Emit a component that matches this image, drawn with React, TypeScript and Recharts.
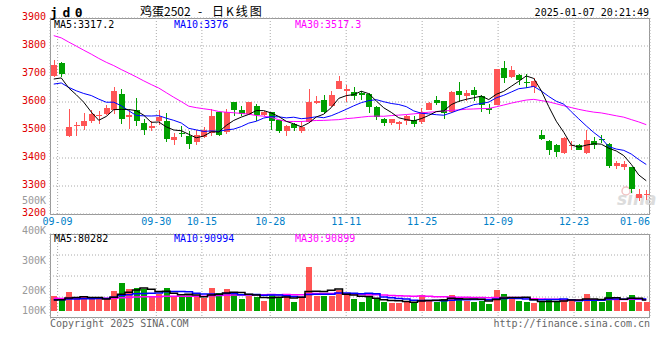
import React from 'react';
import { ComposedChart, Bar, Line, XAxis, YAxis, CartesianGrid, Cell } from 'recharts';

const MONO = '"DejaVu Sans Mono", "Liberation Mono", monospace';
const CJK = '"Noto Sans CJK SC", "Noto Sans", sans-serif';
const RED = '#ff5555';
const GREEN = '#00a000';
const GRID = '#aaaaaa';
const FRAME = '#999999';

const dates = [
  '09-06', '09-09', '09-10', '09-11', '09-12', '09-13', '09-18', '09-19', '09-20',
  '09-23', '09-24', '09-25', '09-26', '09-27', '09-30', '10-08', '10-09', '10-10', '10-11',
  '10-14', '10-15', '10-16', '10-17', '10-18', '10-21', '10-22', '10-23', '10-24', '10-25',
  '10-28', '10-29', '10-30', '10-31', '11-01', '11-04', '11-05', '11-06', '11-07', '11-08',
  '11-11', '11-12', '11-13', '11-14', '11-15', '11-18', '11-19', '11-20', '11-21', '11-22',
  '11-25', '11-26', '11-27', '11-28', '11-29', '12-02', '12-03', '12-04', '12-05', '12-06',
  '12-09', '12-10', '12-11', '12-12', '12-13', '12-16', '12-17', '12-18', '12-19', '12-20',
  '12-23', '12-24', '12-25', '12-26', '12-27', '12-30', '12-31', '01-02', '01-03', '01-06', '01-07',
];

const opens = [
  3692, 3739, 3477, 3516, 3515, 3533, 3549, 3556, 3573, 3630,
  3545, 3573, 3525, 3506, 3531, 3533, 3463, 3489, 3477, 3456,
  3475, 3489, 3564, 3492, 3599, 3573, 3558, 3585, 3552, 3563,
  3535, 3495, 3523, 3498, 3527, 3596, 3608, 3585, 3648, 3638,
  3635, 3632, 3630, 3582, 3540, 3525, 3521, 3533, 3537, 3527,
  3573, 3608, 3602, 3564, 3640, 3620, 3642, 3623, 3579, 3590,
  3721, 3688, 3698, 3670, 3652, 3483, 3462, 3448, 3418, 3444,
  3448, 3417, 3462, 3469, 3451, 3370, 3368, 3367, 3257, 3268,
];
const highs = [
  3751, 3742, 3575, 3527, 3561, 3572, 3569, 3590, 3652, 3646,
  3573, 3614, 3540, 3531, 3573, 3561, 3489, 3515, 3495, 3499,
  3511, 3575, 3566, 3576, 3600, 3587, 3601, 3593, 3569, 3565,
  3537, 3519, 3525, 3531, 3648, 3620, 3626, 3638, 3692, 3660,
  3652, 3640, 3632, 3585, 3543, 3540, 3531, 3555, 3549, 3579,
  3600, 3620, 3603, 3640, 3671, 3642, 3654, 3624, 3594, 3718,
  3748, 3727, 3700, 3700, 3686, 3501, 3463, 3449, 3475, 3460,
  3449, 3501, 3475, 3483, 3454, 3388, 3390, 3368, 3289, 3285,
];
const lows = [
  3688, 3690, 3476, 3477, 3501, 3525, 3523, 3554, 3558, 3523,
  3504, 3513, 3481, 3498, 3519, 3456, 3445, 3475, 3433, 3448,
  3471, 3477, 3480, 3487, 3549, 3549, 3555, 3533, 3549, 3501,
  3489, 3480, 3495, 3489, 3525, 3593, 3558, 3582, 3646, 3600,
  3606, 3608, 3561, 3537, 3513, 3519, 3499, 3519, 3511, 3523,
  3570, 3590, 3539, 3561, 3600, 3602, 3602, 3563, 3558, 3588,
  3668, 3686, 3662, 3650, 3632, 3463, 3412, 3402, 3415, 3427,
  3427, 3415, 3433, 3454, 3364, 3362, 3358, 3275, 3246, 3249,
];
const closes = [
  3733, 3700, 3511, 3519, 3533, 3558, 3552, 3580, 3640, 3539,
  3555, 3531, 3499, 3513, 3545, 3468, 3475, 3486, 3449, 3483,
  3499, 3551, 3483, 3565, 3573, 3558, 3599, 3552, 3564, 3531,
  3495, 3513, 3507, 3511, 3599, 3602, 3564, 3624, 3676, 3648,
  3620, 3624, 3581, 3546, 3525, 3539, 3527, 3549, 3523, 3565,
  3596, 3596, 3561, 3635, 3624, 3632, 3624, 3590, 3573, 3718,
  3686, 3713, 3680, 3668, 3674, 3468, 3427, 3420, 3471, 3446,
  3430, 3463, 3445, 3463, 3373, 3382, 3380, 3289, 3273, 3270,
];
const volumes = [
  113000, 88000, 144000, 88000, 103000, 88000, 88000, 88000, 152000, 213000,
  167000, 175000, 165000, 103000, 129000, 175000, 103000, 103000, 119000, 108000,
  100000, 175000, 136000, 167000, 129000, 90000, 111000, 108000, 75000, 119000,
  103000, 119000, 69000, 108000, 336000, 116000, 113000, 113000, 159000, 129000,
  90000, 67000, 103000, 88000, 69000, 62000, 62000, 75000, 57000, 119000,
  82000, 69000, 88000, 119000, 103000, 75000, 69000, 77000, 52000, 159000,
  129000, 88000, 77000, 67000, 57000, 69000, 88000, 75000, 88000, 88000,
  69000, 129000, 75000, 69000, 144000, 80000, 69000, 121000, 69000, 69000,
];

// closes / volumes of the sessions before 09-06, needed for the moving averages
const priorCloses = [
  3940, 3960, 3950, 3973, 3980, 4010, 3995, 3995, 3960, 3945,
  3930, 3925, 3910, 3912, 3970, 3965, 3950, 3943, 3640, 3617,
  3660, 3669, 3640, 3630, 3631, 3680, 3691, 3639, 3667,
];
const priorVolumes = [
  98000, 105000, 92000, 110000, 96000, 102000, 88000, 115000, 100000, 94000,
  108000, 97000, 103000, 90000, 112000, 99000, 95000, 104000, 93000, 101000,
  90000, 86000, 95000, 88000, 84000, 72000, 78000, 70000, 77000,
];

const priceTicks = [3200, 3300, 3400, 3500, 3600, 3700, 3800, 3900];
const labelDays = ['09-09', '09-30', '10-15', '10-28', '11-11', '11-25', '12-09', '12-23', '01-06'];
const gridDays = labelDays.slice(0, -1);
const volTickLabels = ['500K', '400K', '300K', '200K', '100K'];
const volDomain = [-56000, 590000];

function movingAverage(prior: number[], values: number[], n: number) {
  const all = [...prior, ...values];
  return values.map((_, i) => {
    const end = prior.length + i + 1;
    const win = all.slice(end - n, end);
    return win.reduce((a, b) => a + b, 0) / n;
  });
}

const ma5 = movingAverage(priorCloses, closes, 5);
const ma10 = movingAverage(priorCloses, closes, 10);
const ma30 = movingAverage(priorCloses, closes, 30);
const vma5 = movingAverage(priorVolumes, volumes, 5);
const vma10 = movingAverage(priorVolumes, volumes, 10);
const vma30 = movingAverage(priorVolumes, volumes, 30);

const rows = dates.map((date, i) => ({
  date,
  open: opens[i],
  high: highs[i],
  low: lows[i],
  close: closes[i],
  volume: volumes[i],
  ma5: ma5[i],
  ma10: ma10[i],
  ma30: ma30[i],
  vma5: vma5[i],
  vma10: vma10[i],
  vma30: vma30[i],
}));

const labelIdx = labelDays.map((d) => dates.indexOf(d));
const gridIdx = gridDays.map((d) => dates.indexOf(d));
const volTicks = [0, 1, 2, 3, 4].map((k) => volDomain[0] + ((volDomain[1] - volDomain[0]) * k) / 4);

const PLOT_RIGHT = 650;

const Candle = (props: any) => {
  const { x, y, width, height, payload } = props;
  const { open, close, high, low } = payload;
  const top = Math.min(y, y + height);
  const h = Math.abs(height);
  const ratio = h / (high - low);
  const py = (v: number) => top + (high - v) * ratio;
  const color = close >= open ? RED : GREEN;
  const cx = Math.floor(x + width / 2) + 0.5;
  const bodyTop = py(Math.max(open, close));
  const bodyH = Math.max(1, py(Math.min(open, close)) - bodyTop);
  return (
    <g shapeRendering="crispEdges">
      <line x1={cx} x2={cx} y1={top} y2={top + h} stroke={color} strokeWidth={1} />
      <rect x={x} y={bodyTop} width={width} height={bodyH} fill={color} />
    </g>
  );
};

const PriceTick = (props: any) => (
  <text x={46} y={props.y - 1.5} dy="0.36em" textAnchor="end" fill="#e00000" fontSize={10} fontFamily={MONO}>
    {props.payload.value}
  </text>
);

const DateTick = (props: any) => {
  const label = dates[props.payload.value];
  const half = label.length * 3.01;
  const cx = Math.min(props.x, PLOT_RIGHT - half);
  return (
    <text x={cx} y={225} textAnchor="middle" fill="#0080c8" fontSize={10} fontFamily={MONO}>
      {label}
    </text>
  );
};

const VolTick = (props: any) => {
  const k = volTicks.length - 1 - props.index;
  const y = Math.min(200.5 + 30 * k, 310);
  return (
    <text x={46} y={y} dy="0.36em" textAnchor="end" fill="#999" fontSize={10} fontFamily={MONO}>
      {volTickLabels[k]}
    </text>
  );
};

function PriceChart() {
  return (
    <ComposedChart width={660} height={360} data={rows} margin={{ top: 18, right: 10, bottom: 126, left: 0 }}>
      <XAxis dataKey="date" hide />
      <XAxis xAxisId="grid" type="number" domain={[0, 79]} ticks={gridIdx} allowDataOverflow hide />
      <XAxis
        xAxisId="lbl"
        type="number"
        domain={[0, 79]}
        ticks={labelIdx}
        allowDataOverflow
        interval={0}
        height={20}
        axisLine={false}
        tickLine={false}
        tick={DateTick}
      />
      <YAxis
        domain={[3200, 3900]}
        ticks={priceTicks}
        interval={0}
        allowDataOverflow
        width={50}
        axisLine={false}
        tickLine={false}
        tick={PriceTick}
      />
      <CartesianGrid xAxisId="grid" stroke={GRID} strokeDasharray="1 2" />
      <Bar dataKey={(d: any) => [d.low, d.high]} shape={Candle} barSize={6} isAnimationActive={false} />
      <Line dataKey="ma30" stroke="#ff00ff" strokeWidth={1} dot={false} isAnimationActive={false} />
      <Line dataKey="ma10" stroke="#0000ff" strokeWidth={1} dot={false} isAnimationActive={false} />
      <Line dataKey="ma5" stroke="#000000" strokeWidth={1} dot={false} isAnimationActive={false} />
    </ComposedChart>
  );
}

function VolumeChart() {
  return (
    <ComposedChart width={660} height={360} data={rows} margin={{ top: 234, right: 10, bottom: 42, left: 0 }}>
      <XAxis dataKey="date" hide />
      <XAxis xAxisId="grid" type="number" domain={[0, 79]} ticks={gridIdx} allowDataOverflow hide />
      <YAxis
        domain={volDomain}
        ticks={volTicks}
        interval={0}
        allowDataOverflow
        width={50}
        axisLine={false}
        tickLine={false}
        tick={VolTick}
      />
      <CartesianGrid xAxisId="grid" stroke={GRID} strokeDasharray="1 2" />
      <Bar dataKey="volume" barSize={6} isAnimationActive={false} shapeRendering="crispEdges">
        {rows.map((r) => (
          <Cell key={r.date} fill={r.close >= r.open ? RED : GREEN} />
        ))}
      </Bar>
      <Line type="step" dataKey="vma30" stroke="#ff00ff" strokeWidth={1.5} dot={false} isAnimationActive={false} />
      <Line type="step" dataKey="vma10" stroke="#0000ff" strokeWidth={1.5} dot={false} isAnimationActive={false} />
      <Line type="step" dataKey="vma5" stroke="#000000" strokeWidth={1.5} dot={false} isAnimationActive={false} />
    </ComposedChart>
  );
}

const frame = (top: number, height: number): React.CSSProperties => ({
  position: 'absolute',
  left: 50,
  top,
  width: 600,
  height,
  border: `1px solid ${FRAME}`,
  boxSizing: 'border-box',
});

const layer: React.CSSProperties = { position: 'absolute', left: 0, top: 0 };

export default function App() {
  return (
    <div style={{ position: 'absolute', left: 0, top: 0, width: 660, height: 360, background: '#fff', overflow: 'hidden' }}>
      <div style={frame(18, 197)} />
      <div style={frame(234, 84)} />
      <svg width={660} height={360} style={layer}>
        <circle cx={626} cy={191} r={4} fill="none" stroke="#f2c4c4" strokeWidth={1.5} />
        <text x={617} y={205} fontSize={17} fontStyle="italic" fontWeight="bold" fontFamily='"DejaVu Sans", sans-serif' fill="#dcdcdc">
          sina
        </text>
      </svg>
      <div style={layer}>
        <PriceChart />
      </div>
      <div style={layer}>
        <VolumeChart />
      </div>
      <svg width={660} height={360} style={{ ...layer, pointerEvents: 'none' }}>
        <text x={50} y={16.5} fontSize={13} fontWeight="bold" fontFamily={MONO} letterSpacing={4.6} fill="#000">
          jd0
        </text>
        <text y={16} fontSize={12} fontFamily={CJK} fill="#000">
          <tspan x={140}>鸡蛋2502</tspan>
          <tspan x={198}>-</tspan>
          <tspan x={212} letterSpacing={2}>日K线图</tspan>
        </text>
        <text x={649} y={15.5} textAnchor="end" fontSize={10} fontFamily={MONO} fill="#000">
          2025-01-07 20:21:49
        </text>
        <text y={27.5} fontSize={10} fontFamily={MONO}>
          <tspan x={54} fill="#000">MA5:3317.2</tspan>
          <tspan x={174} fill="#0000ff">MA10:3376</tspan>
          <tspan x={295} fill="#ff00ff">MA30:3517.3</tspan>
        </text>
        <text y={242} fontSize={10} fontFamily={MONO}>
          <tspan x={54} fill="#000">MA5:80282</tspan>
          <tspan x={174} fill="#0000ff">MA10:90994</tspan>
          <tspan x={295} fill="#ff00ff">MA30:90899</tspan>
        </text>
        <text x={50} y={326.5} fontSize={10} fontFamily={MONO} fill="#666">
          Copyright 2025 SINA.COM
        </text>
        <text x={650} y={326.5} textAnchor="end" fontSize={10} fontFamily={MONO} fill="#666">
          http://finance.sina.com.cn
        </text>
      </svg>
    </div>
  );
}
